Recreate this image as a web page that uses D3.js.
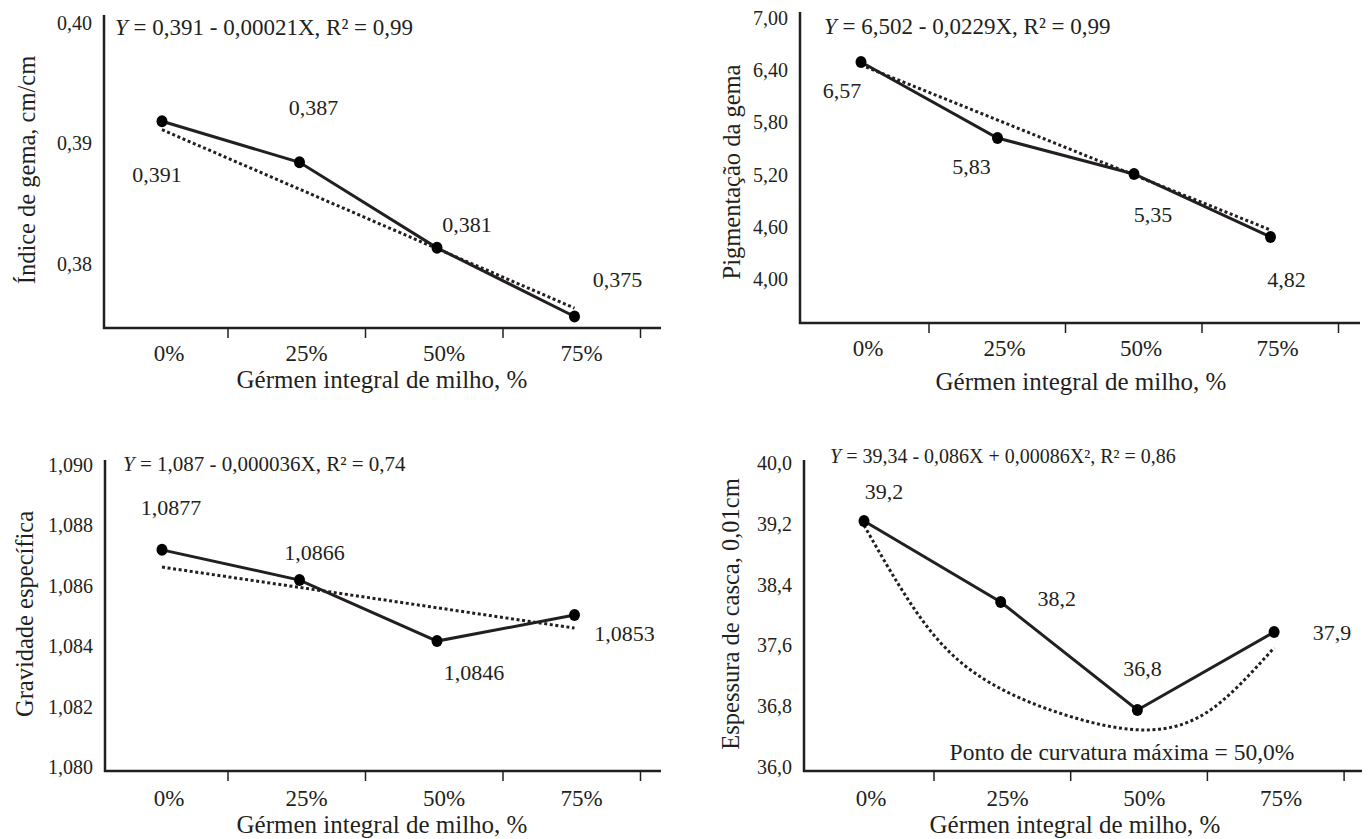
<!DOCTYPE html>
<html><head><meta charset="utf-8">
<script src="https://cdn.jsdelivr.net/npm/d3@7"></script>
<style>
body{margin:0;background:#fff}
svg{display:block}
svg text{font-family:"Liberation Serif","Tinos","Times New Roman","DejaVu Serif","Noto Serif",serif;fill:#231f20}
</style>
</head><body>
<svg id="chart" width="1368" height="839" font-family="Liberation Serif, DejaVu Serif, serif"></svg>
<script>
// ---------- DATA ----------
const categories = ["0%", "25%", "50%", "75%"];
const xPercent = [0, 25, 50, 75];
const xAxisTitle = "Gérmen integral de milho, %";

// Panel A: Índice de gema
const indiceValues = [0.3918, 0.3884, 0.3813, 0.3756];
const indiceLabels = ["0,391", "0,387", "0,381", "0,375"];
const indiceTrendX = [0, 75];
const indiceTrendY = [0.3911, 0.3763];
const indiceTicks = [0.38, 0.39, 0.40];
const indiceTickLabels = ["0,38", "0,39", "0,40"];
const indiceEq = ["Y", " = 0,391 - 0,00021X, R² = 0,99"];

// Panel B: Pigmentação da gema
const pigmValues = [6.494, 5.621, 5.207, 4.483];
const pigmLabels = ["6,57", "5,83", "5,35", "4,82"];
const pigmTrendX = [0, 75];
const pigmTrendY = [6.46, 4.563];
const pigmTicks = [4.00, 4.60, 5.20, 5.80, 6.40, 7.00];
const pigmTickLabels = ["4,00", "4,60", "5,20", "5,80", "6,40", "7,00"];
const pigmEq = ["Y", " = 6,502 - 0,0229X, R² = 0,99"];

// Panel C: Gravidade específica
const gravValues = [1.08719, 1.08619, 1.08417, 1.08503];
const gravLabels = ["1,0877", "1,0866", "1,0846", "1,0853"];
const gravTrendX = [0, 75];
const gravTrendY = [1.08662, 1.0846];
const gravTicks = [1.080, 1.082, 1.084, 1.086, 1.088, 1.090];
const gravTickLabels = ["1,080", "1,082", "1,084", "1,086", "1,088", "1,090"];
const gravEq = ["Y", " = 1,087 - 0,000036X, R² = 0,74"];

// Panel D: Espessura de casca
const espValues = [39.237, 38.171, 36.75, 37.776];
const espLabels = ["39,2", "38,2", "36,8", "37,9"];
const espTrendX = [0, 12.5, 25, 37.5, 50, 62.5, 75];
const espTrendY = [39.18, 37.76, 37.03, 36.67, 36.49, 36.71, 37.57];
const espTicks = [36.0, 36.8, 37.6, 38.4, 39.2, 40.0];
const espTickLabels = ["36,0", "36,8", "37,6", "38,4", "39,2", "40,0"];
const espEq = ["Y", " = 39,34 - 0,086X + 0,00086X², R² = 0,86"];
const espNote = "Ponto de curvatura máxima = 50,0%";

// ---------- LAYOUT ----------
const panels = [
  { yTitle: "Índice de gema, cm/cm", values: indiceValues, labels: indiceLabels,
    trendX: indiceTrendX, trendY: indiceTrendY, ticks: indiceTicks, tickLabels: indiceTickLabels, eq: indiceEq,
    L: { axisX: 104, axisY: 328, topY: 15, tickPx: [263.5, 22.5], x0: 162, step: 137.5, tickOff: 66, axisEnd: 661,
         eqX: 115, eqY: 35, eqSize: 23, yTitleX: 26, yTitleY: 170, xTitleX: 382, xTitleY: 379, xLabY: 353,
         off: [[-5, 53], [14, -55], [30, -23], [43, -37]] } },
  { yTitle: "Pigmentação da gema", values: pigmValues, labels: pigmLabels,
    trendX: pigmTrendX, trendY: pigmTrendY, ticks: pigmTicks, tickLabels: pigmTickLabels, eq: pigmEq,
    L: { axisX: 800, axisY: 323, topY: 12, tickPx: [279, 18], x0: 861, step: 136.5, tickOff: 68, axisEnd: 1360,
         eqX: 824, eqY: 34, eqSize: 23, yTitleX: 731, yTitleY: 172, xTitleX: 1081, xTitleY: 381, xLabY: 348,
         off: [[-19, 28], [-26, 29], [19, 41], [16, 43]] } },
  { yTitle: "Gravidade específica", values: gravValues, labels: gravLabels,
    trendX: gravTrendX, trendY: gravTrendY, ticks: gravTicks, tickLabels: gravTickLabels, eq: gravEq,
    L: { axisX: 105, axisY: 771, topY: 460, tickPx: [767, 465], x0: 162, step: 137.5, tickOff: 66, axisEnd: 661,
         eqX: 123, eqY: 471, eqSize: 21, yTitleX: 24, yTitleY: 614, xTitleX: 382, xTitleY: 824, xLabY: 798,
         off: [[9, -42], [15, -28], [37, 31], [50, 18]] } },
  { yTitle: "Espessura de casca, 0,01cm", values: espValues, labels: espLabels,
    trendX: espTrendX, trendY: espTrendY, ticks: espTicks, tickLabels: espTickLabels, eq: espEq, note: espNote,
    L: { axisX: 804, axisY: 771, topY: 460, tickPx: [767, 463], x0: 864, step: 136.7, tickOff: 70, axisEnd: 1362,
         eqX: 830, eqY: 463, eqSize: 20, yTitleX: 730, yTitleY: 614, xTitleX: 1075, xTitleY: 824, xLabY: 798,
         noteX: 1122, noteY: 752, off: [[20, -29], [56, -4], [5, -42], [58, 0]] } }
];

const ink = "#231f20";
const FONT = "'Liberation Serif', 'Tinos', 'Times New Roman', 'DejaVu Serif', serif";
const svg = d3.select("#chart");

function txt(sel, size) {
  return sel.style("font-family", FONT).style("font-size", size + "px").style("fill", ink);
}

panels.forEach(p => {
  const L = p.L;
  const g = svg.append("g");
  const x = d3.scaleLinear().domain([0, 75]).range([L.x0, L.x0 + 3 * L.step]);
  const y = d3.scaleLinear().domain([p.ticks[0], p.ticks[p.ticks.length - 1]]).range(L.tickPx);

  g.append("line").attr("x1", L.axisX).attr("x2", L.axisX).attr("y1", L.topY).attr("y2", L.axisY + 1)
    .attr("stroke", ink).attr("stroke-width", 2.5);
  g.append("line").attr("x1", L.axisX - 1).attr("x2", L.axisEnd).attr("y1", L.axisY).attr("y2", L.axisY)
    .attr("stroke", ink).attr("stroke-width", 2.5);

  g.selectAll(".xt").data(xPercent).enter().append("line")
    .attr("x1", d => x(d) + L.tickOff).attr("x2", d => x(d) + L.tickOff)
    .attr("y1", L.axisY).attr("y2", L.axisY + 10).attr("stroke", ink).attr("stroke-width", 1.5);

  txt(g.selectAll(".xl").data(categories).enter().append("text")
    .attr("x", (d, i) => x(xPercent[i]) + 7).attr("y", L.xLabY)
    .attr("text-anchor", "middle").attr("dominant-baseline", "central"), 23).text(d => d);

  txt(g.selectAll(".yl").data(p.ticks).enter().append("text")
    .attr("x", L.axisX - 12).attr("y", d => y(d))
    .attr("text-anchor", "end").attr("dominant-baseline", "central"), 20).text((d, i) => p.tickLabels[i]);

  txt(g.append("text").attr("x", L.xTitleX).attr("y", L.xTitleY)
    .attr("text-anchor", "middle").attr("dominant-baseline", "central"), 25).text(xAxisTitle);
  txt(g.append("text").attr("transform", `translate(${L.yTitleX},${L.yTitleY}) rotate(-90)`)
    .attr("text-anchor", "middle").attr("dominant-baseline", "central"), 24.5).text(p.yTitle);

  const eq = txt(g.append("text").attr("x", L.eqX).attr("y", L.eqY), L.eqSize);
  eq.append("tspan").style("font-style", "italic").text(p.eq[0]);
  eq.append("tspan").text(p.eq[1]);

  const trendLine = d3.line().x(d => x(d[0])).y(d => y(d[1]))
    .curve(p.trendX.length > 2 ? d3.curveNatural : d3.curveLinear);
  g.append("path").datum(p.trendX.map((d, i) => [d, p.trendY[i]]))
    .attr("d", trendLine).attr("fill", "none").attr("stroke", ink)
    .attr("stroke-width", 3).attr("stroke-dasharray", "3,2.6");

  const obs = xPercent.map((d, i) => [d, p.values[i]]);
  g.append("path").datum(obs).attr("d", d3.line().x(d => x(d[0])).y(d => y(d[1])))
    .attr("fill", "none").attr("stroke", ink).attr("stroke-width", 3);
  g.selectAll(".pt").data(obs).enter().append("ellipse")
    .attr("cx", d => x(d[0])).attr("cy", d => y(d[1])).attr("rx", 5.5).attr("ry", 6)
    .attr("fill", "#000");

  txt(g.selectAll(".vl").data(obs).enter().append("text")
    .attr("x", (d, i) => x(d[0]) + L.off[i][0]).attr("y", (d, i) => y(d[1]) + L.off[i][1])
    .attr("text-anchor", "middle").attr("dominant-baseline", "central"), 22).text((d, i) => p.labels[i]);

  if (p.note) {
    txt(g.append("text").attr("x", L.noteX).attr("y", L.noteY)
      .attr("text-anchor", "middle").attr("dominant-baseline", "central"), 23.5).text(p.note);
  }
});
</script>
</body></html>
